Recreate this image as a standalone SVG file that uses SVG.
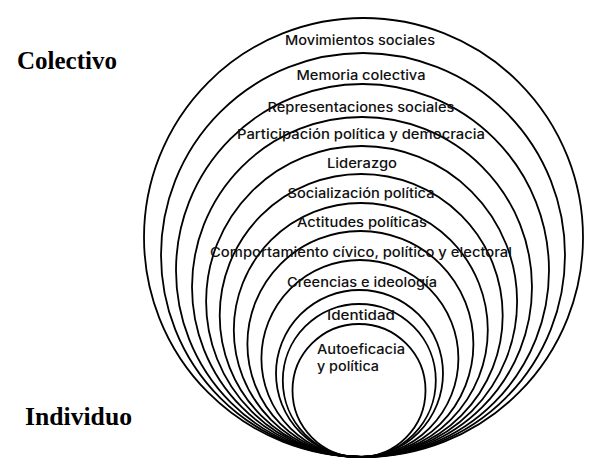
<svg xmlns="http://www.w3.org/2000/svg" width="600" height="476" viewBox="0 0 600 476">
<style>
.ring{fill:none;stroke:#000;stroke-width:1.8}
.lbl{font-family:Inter,"Open Sans","Noto Sans","Liberation Sans",sans-serif;font-weight:500;font-size:13px;fill:#111;text-anchor:middle}
.lft{text-anchor:start}
.side{font-family:"Liberation Serif","Times New Roman",serif;font-weight:bold;font-size:25px;fill:#000}
</style>
<rect width="600" height="476" fill="#fff"/>
<g id="connectors"></g>
<g id="n1"><circle class="ring" cx="363.5" cy="237.5" r="219.5"/><text class="lbl" x="360" y="45" textLength="150" lengthAdjust="spacingAndGlyphs">Movimientos sociales</text></g>
<g id="n2"><circle class="ring" cx="363" cy="255" r="202"/><text class="lbl" x="361" y="80" textLength="129" lengthAdjust="spacingAndGlyphs">Memoria colectiva</text></g>
<g id="n3"><circle class="ring" cx="362.5" cy="270.5" r="186.5"/><text class="lbl" x="361" y="112" textLength="187" lengthAdjust="spacingAndGlyphs">Representaciones sociales</text></g>
<g id="n4"><circle class="ring" cx="362" cy="287" r="170"/><text class="lbl" x="361" y="139" textLength="248" lengthAdjust="spacingAndGlyphs">Participación política y democracia</text></g>
<g id="n5"><circle class="ring" cx="361.6" cy="301.5" r="155.5"/><text class="lbl" x="362" y="168" textLength="70" lengthAdjust="spacingAndGlyphs">Liderazgo</text></g>
<g id="n6"><circle class="ring" cx="361.2" cy="315.5" r="141.5"/><text class="lbl" x="361" y="198" textLength="147" lengthAdjust="spacingAndGlyphs">Socialización política</text></g>
<g id="n7"><circle class="ring" cx="360.8" cy="330" r="127"/><text class="lbl" x="362" y="227" textLength="130" lengthAdjust="spacingAndGlyphs">Actitudes políticas</text></g>
<g id="n8"><circle class="ring" cx="360.4" cy="344" r="113"/><text class="lbl" x="361" y="257" textLength="302" lengthAdjust="spacingAndGlyphs">Comportamiento cívico, político y electoral</text></g>
<g id="n9"><circle class="ring" cx="359.9" cy="358.5" r="98.5"/><text class="lbl" x="362" y="287" textLength="150" lengthAdjust="spacingAndGlyphs">Creencias e ideología</text></g>
<g id="n10"><circle class="ring" cx="359.5" cy="373.5" r="83.5"/></g>
<g id="n11"><circle class="ring" cx="359.3" cy="380.5" r="76.5"/><text class="lbl" x="361" y="320" textLength="68" lengthAdjust="spacingAndGlyphs">Identidad</text></g>
<g id="n12"><circle class="ring" cx="359" cy="390.5" r="66.5"/><text class="lbl lft" x="317" y="354" textLength="88" lengthAdjust="spacingAndGlyphs">Autoeficacia</text><text class="lbl lft" x="317" y="371" textLength="62" lengthAdjust="spacingAndGlyphs">y política</text></g>
<g id="side-labels"><text class="side" x="17" y="69">Colectivo</text><text class="side" x="25" y="425" textLength="107" lengthAdjust="spacingAndGlyphs">Individuo</text></g>
</svg>
